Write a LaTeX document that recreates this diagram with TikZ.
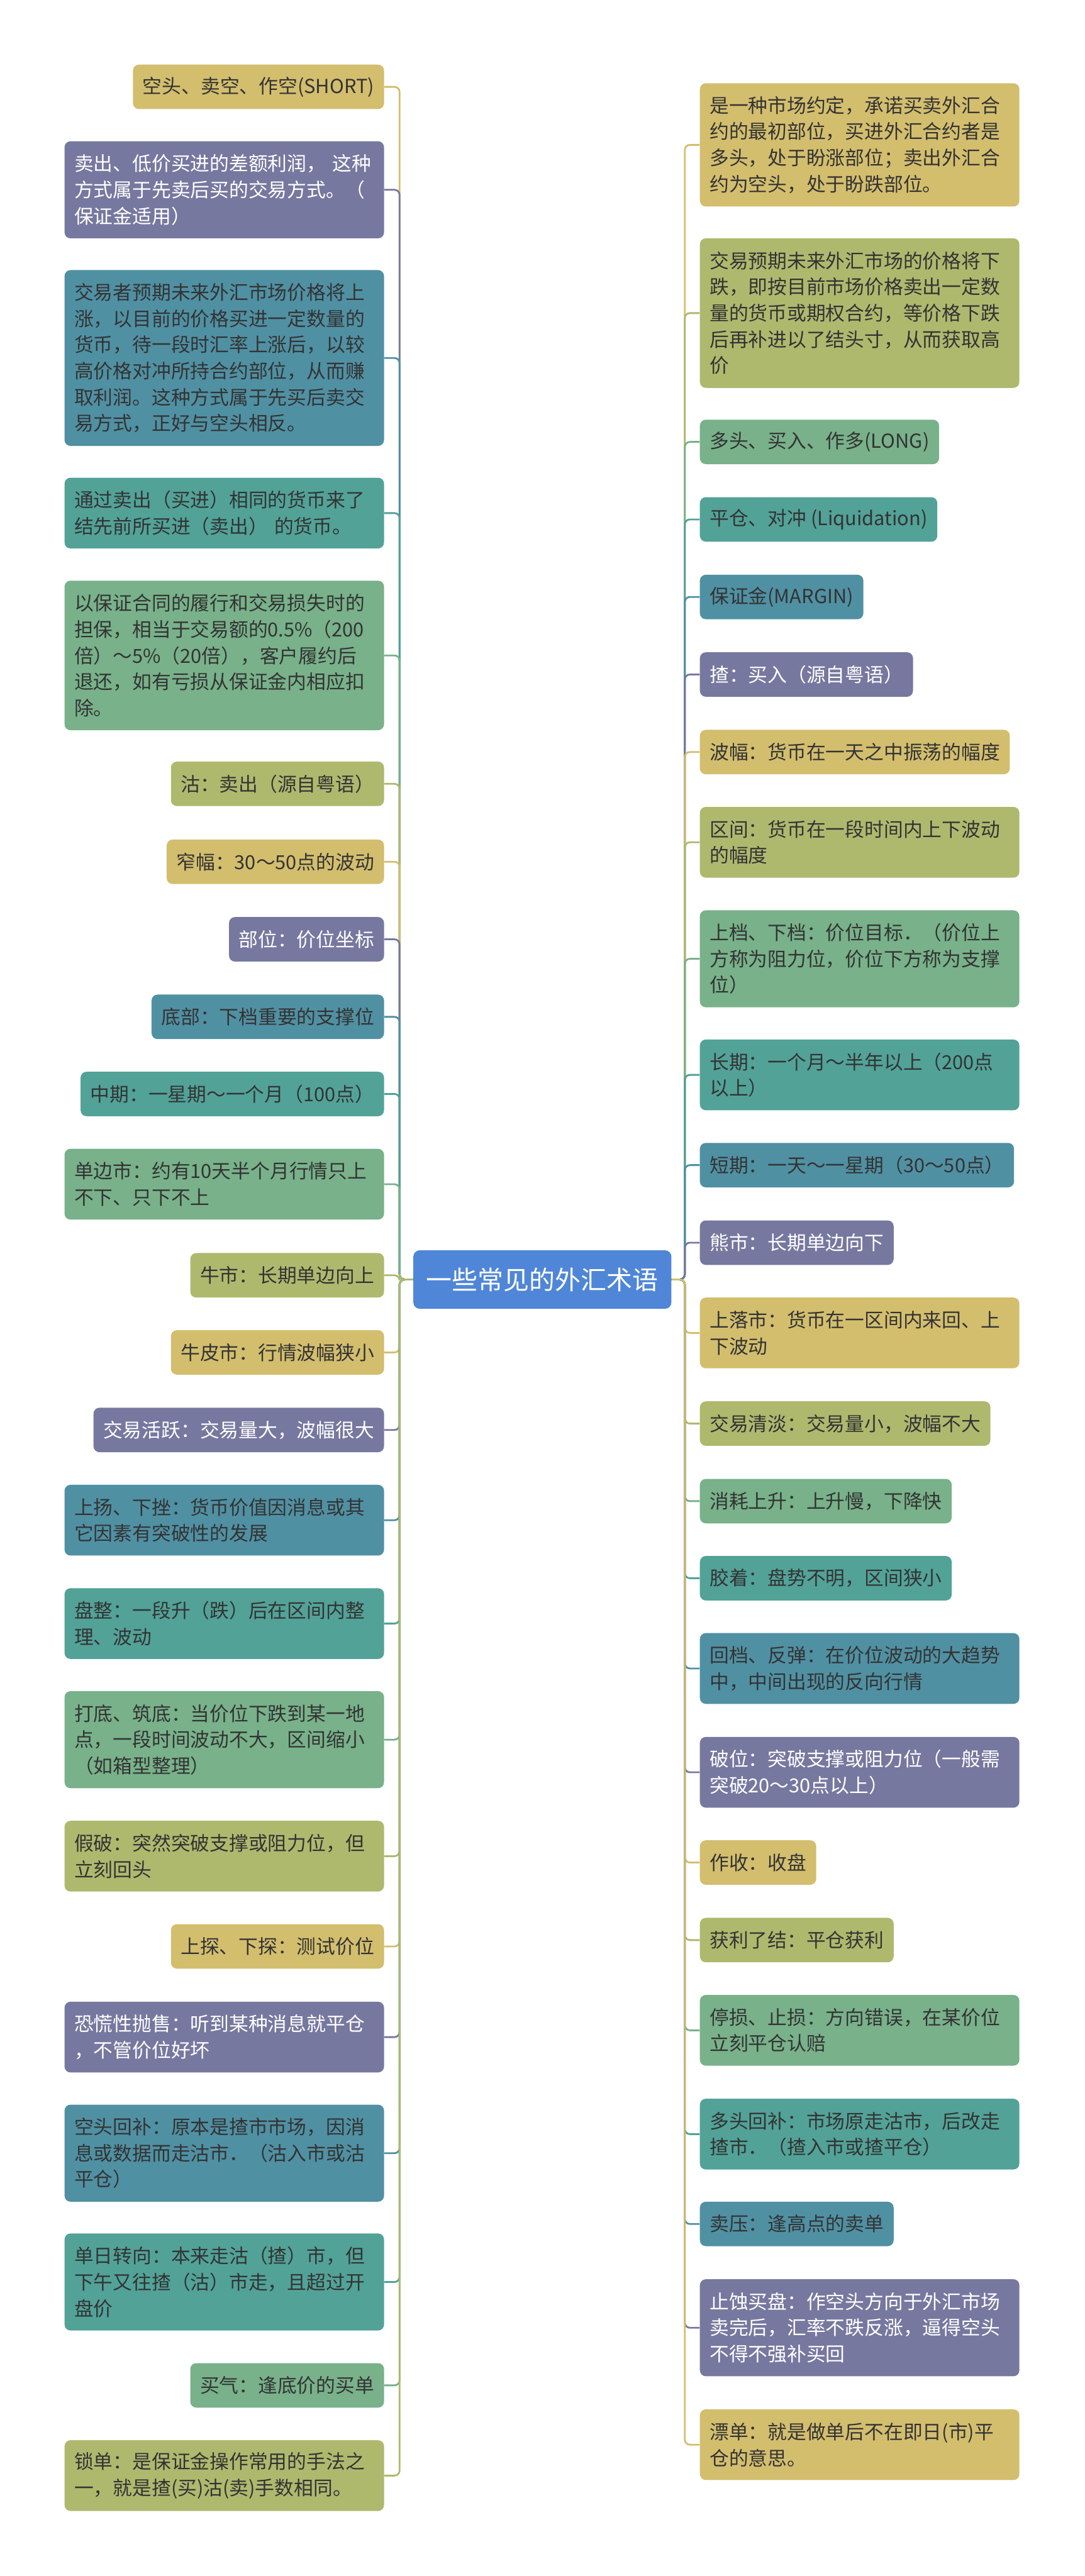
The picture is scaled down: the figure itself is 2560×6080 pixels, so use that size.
\documentclass[tikz,border=0pt]{standalone}
\usepackage{fontspec}
\setmainfont{Noto Sans CJK SC}
\usetikzlibrary{positioning}

\definecolor{mmGold}{HTML}{D3BE6E}
\definecolor{mmOlive}{HTML}{AEB96E}
\definecolor{mmGreen}{HTML}{78B18A}
\definecolor{mmTeal}{HTML}{52A298}
\definecolor{mmBlue}{HTML}{5090A3}
\definecolor{mmPurple}{HTML}{77789F}
\definecolor{mmRoot}{HTML}{4F86D8}
\definecolor{ink}{HTML}{333333}

\begin{document}
\begin{tikzpicture}[
  x=0.1mm, y=-0.1mm,
  root/.style={
    rectangle, rounded corners=1.5mm,
    fill=mmRoot, text=white,
    minimum width=60.9mm, minimum height=13.8mm,
    inner sep=0pt, font=\fontsize{17.3pt}{20pt}\selectfont
  },
  term/.style={
    rectangle, rounded corners=1.4mm,
    text=ink, align=left,
    inner xsep=2.3mm, inner ysep=0pt,
    font=\fontsize{13pt}{17.6pt}\selectfont
  },
  lterm/.style={term, anchor=east},
  rterm/.style={term, anchor=west},
  rows/.style={minimum height=4.3mm+6.2mm*#1},
  wide/.style={text width=70.8mm},
  pur/.style={fill=mmPurple, text=white},
  link/.style={draw=#1, line width=1.2pt, rounded corners=1.2mm}
]
\useasboundingbox (0,0) rectangle (2560,6080);

%% ── Centre ───────────────────────────────────────────────────────────
\node[root] (root) at (1280,3020) {一些常见的外汇术语};

%% ── Left branch ──────────────────────────────────────────────────────
\node[lterm, fill=mmGold, rows=1] (l1) at (907,205) {空头、卖空、作空(SHORT)};
\node[lterm, pur, rows=3, wide] (l2) at (907,448) {
  卖出、低价买进的差额利润， 这种\\
  方式属于先卖后买的交易方式。（\\
  保证金适用）
};
\node[lterm, fill=mmBlue, rows=6, wide] (l3) at (907,845) {
  交易者预期未来外汇市场价格将上\\
  涨，以目前的价格买进一定数量的\\
  货币，待一段时汇率上涨后，以较\\
  高价格对冲所持合约部位，从而赚\\
  取利润。这种方式属于先买后卖交\\
  易方式，正好与空头相反。
};
\node[lterm, fill=mmTeal, rows=2, wide] (l4) at (907,1211) {
  通过卖出（买进）相同的货币来了\\
  结先前所买进（卖出） 的货币。
};
\node[lterm, fill=mmGreen, rows=5, wide] (l5) at (907,1547) {
  以保证合同的履行和交易损失时的\\
  担保，相当于交易额的0.5\%（200\\
  倍）～5\%（20倍），客户履约后\\
  退还，如有亏损从保证金内相应扣\\
  除。
};
\node[lterm, fill=mmOlive, rows=1] (l6) at (907,1850) {沽：卖出（源自粤语）};
\node[lterm, fill=mmGold, rows=1] (l7) at (907,2034) {窄幅：30～50点的波动};
\node[lterm, pur, rows=1] (l8) at (907,2217) {部位：价位坐标};
\node[lterm, fill=mmBlue, rows=1] (l9) at (907,2400) {底部：下档重要的支撑位};
\node[lterm, fill=mmTeal, rows=1] (l10) at (907,2582) {中期：一星期～一个月（100点）};
\node[lterm, fill=mmGreen, rows=2, wide] (l11) at (907,2795) {
  单边市：约有10天半个月行情只上\\
  不下、只下不上
};
\node[lterm, fill=mmOlive, rows=1] (l12) at (907,3010) {牛市：长期单边向上};
\node[lterm, fill=mmGold, rows=1] (l13) at (907,3192) {牛皮市：行情波幅狭小};
\node[lterm, pur, rows=1] (l14) at (907,3375) {交易活跃：交易量大，波幅很大};
\node[lterm, fill=mmBlue, rows=2, wide] (l15) at (907,3588) {
  上扬、下挫：货币价值因消息或其\\
  它因素有突破性的发展
};
\node[lterm, fill=mmTeal, rows=2, wide] (l16) at (907,3832) {
  盘整：一段升（跌）后在区间内整\\
  理、波动
};
\node[lterm, fill=mmGreen, rows=3, wide] (l17) at (907,4106) {
  打底、筑底：当价位下跌到某一地\\
  点，一段时间波动不大，区间缩小\\
  （如箱型整理）
};
\node[lterm, fill=mmOlive, rows=2, wide] (l18) at (907,4381) {
  假破：突然突破支撑或阻力位，但\\
  立刻回头
};
\node[lterm, fill=mmGold, rows=1] (l19) at (907,4594) {上探、下探：测试价位};
\node[lterm, pur, rows=2, wide] (l20) at (907,4808) {
  恐慌性抛售：听到某种消息就平仓\\
  ，不管价位好坏
};
\node[lterm, fill=mmBlue, rows=3, wide] (l21) at (907,5082) {
  空头回补：原本是揸市市场，因消\\
  息或数据而走沽市．（沽入市或沽\\
  平仓）
};
\node[lterm, fill=mmTeal, rows=3, wide] (l22) at (907,5386) {
  单日转向：本来走沽（揸）市，但\\
  下午又往揸（沽）市走，且超过开\\
  盘价
};
\node[lterm, fill=mmGreen, rows=1] (l23) at (907,5630) {买气：逢底价的买单};
\node[lterm, fill=mmOlive, rows=2, wide] (l24) at (907,5843) {
  锁单：是保证金操作常用的手法之\\
  一，就是揸(买)沽(卖)手数相同。
};

\draw[link=mmGold]   (l1.east)  -- ++(36,0) |- (root.west);
\draw[link=mmPurple] (l2.east)  -- ++(36,0) |- (root.west);
\draw[link=mmBlue]   (l3.east)  -- ++(36,0) |- (root.west);
\draw[link=mmTeal]   (l4.east)  -- ++(36,0) |- (root.west);
\draw[link=mmGreen]  (l5.east)  -- ++(36,0) |- (root.west);
\draw[link=mmOlive]  (l6.east)  -- ++(36,0) |- (root.west);
\draw[link=mmGold]   (l7.east)  -- ++(36,0) |- (root.west);
\draw[link=mmPurple] (l8.east)  -- ++(36,0) |- (root.west);
\draw[link=mmBlue]   (l9.east)  -- ++(36,0) |- (root.west);
\draw[link=mmTeal]   (l10.east) -- ++(36,0) |- (root.west);
\draw[link=mmGreen]  (l11.east) -- ++(36,0) |- (root.west);
\draw[link=mmOlive]  (l12.east) -- ++(36,0) |- (root.west);
\draw[link=mmGold]   (l13.east) -- ++(36,0) |- (root.west);
\draw[link=mmPurple] (l14.east) -- ++(36,0) |- (root.west);
\draw[link=mmBlue]   (l15.east) -- ++(36,0) |- (root.west);
\draw[link=mmTeal]   (l16.east) -- ++(36,0) |- (root.west);
\draw[link=mmGreen]  (l17.east) -- ++(36,0) |- (root.west);
\draw[link=mmOlive]  (l18.east) -- ++(36,0) |- (root.west);
\draw[link=mmGold]   (l19.east) -- ++(36,0) |- (root.west);
\draw[link=mmPurple] (l20.east) -- ++(36,0) |- (root.west);
\draw[link=mmBlue]   (l21.east) -- ++(36,0) |- (root.west);
\draw[link=mmTeal]   (l22.east) -- ++(36,0) |- (root.west);
\draw[link=mmGreen]  (l23.east) -- ++(36,0) |- (root.west);
\draw[link=mmOlive]  (l24.east) -- ++(36,0) |- (root.west);

%% ── Right branch ─────────────────────────────────────────────────────
\node[rterm, fill=mmGold, rows=4, wide] (r1) at (1651,342) {
  是一种市场约定，承诺买卖外汇合\\
  约的最初部位，买进外汇合约者是\\
  多头，处于盼涨部位；卖出外汇合\\
  约为空头，处于盼跌部位。
};
\node[rterm, fill=mmOlive, rows=5, wide] (r2) at (1651,739) {
  交易预期未来外汇市场的价格将下\\
  跌，即按目前市场价格卖出一定数\\
  量的货币或期权合约，等价格下跌\\
  后再补进以了结头寸，从而获取高\\
  价
};
\node[rterm, fill=mmGreen, rows=1] (r3) at (1651,1043) {多头、买入、作多(LONG)};
\node[rterm, fill=mmTeal, rows=1] (r4) at (1651,1226) {平仓、对冲 (Liquidation)};
\node[rterm, fill=mmBlue, rows=1] (r5) at (1651,1409) {保证金(MARGIN)};
\node[rterm, pur, rows=1] (r6) at (1651,1592) {揸：买入（源自粤语）};
\node[rterm, fill=mmGold, rows=1] (r7) at (1651,1775) {波幅：货币在一天之中振荡的幅度};
\node[rterm, fill=mmOlive, rows=2, wide] (r8) at (1651,1988) {
  区间：货币在一段时间内上下波动\\
  的幅度
};
\node[rterm, fill=mmGreen, rows=3, wide] (r9) at (1651,2263) {
  上档、下档：价位目标．（价位上\\
  方称为阻力位，价位下方称为支撑\\
  位）
};
\node[rterm, fill=mmTeal, rows=2, wide] (r10) at (1651,2537) {
  长期：一个月～半年以上（200点\\
  以上）
};
\node[rterm, fill=mmBlue, rows=1] (r11) at (1651,2750) {短期：一天～一星期（30～50点）};
\node[rterm, pur, rows=1] (r12) at (1651,2933) {熊市：长期单边向下};
\node[rterm, fill=mmGold, rows=2, wide] (r13) at (1651,3146) {
  上落市：货币在一区间内来回、上\\
  下波动
};
\node[rterm, fill=mmOlive, rows=1] (r14) at (1651,3360) {交易清淡：交易量小，波幅不大};
\node[rterm, fill=mmGreen, rows=1] (r15) at (1651,3543) {消耗上升：上升慢，下降快};
\node[rterm, fill=mmTeal, rows=1] (r16) at (1651,3725) {胶着：盘势不明，区间狭小};
\node[rterm, fill=mmBlue, rows=2, wide] (r17) at (1651,3938) {
  回档、反弹：在价位波动的大趋势\\
  中，中间出现的反向行情
};
\node[rterm, pur, rows=2, wide] (r18) at (1651,4183) {
  破位：突破支撑或阻力位（一般需\\
  突破20～30点以上）
};
\node[rterm, fill=mmGold, rows=1] (r19) at (1651,4396) {作收：收盘};
\node[rterm, fill=mmOlive, rows=1] (r20) at (1651,4579) {获利了结：平仓获利};
\node[rterm, fill=mmGreen, rows=2, wide] (r21) at (1651,4792) {
  停损、止损：方向错误，在某价位\\
  立刻平仓认赔
};
\node[rterm, fill=mmTeal, rows=2, wide] (r22) at (1651,5037) {
  多头回补：市场原走沽市，后改走\\
  揸市．（揸入市或揸平仓）
};
\node[rterm, fill=mmBlue, rows=1] (r23) at (1651,5249) {卖压：逢高点的卖单};
\node[rterm, pur, rows=3, wide] (r24) at (1651,5494) {
  止蚀买盘：作空头方向于外汇市场\\
  卖完后，汇率不跌反涨，逼得空头\\
  不得不强补买回
};
\node[rterm, fill=mmGold, rows=2, wide] (r25) at (1651,5770) {
  漂单：就是做单后不在即日(市)平\\
  仓的意思。
};

\draw[link=mmGold]   (r1.west)  -- ++(-35,0) |- (root.east);
\draw[link=mmOlive]  (r2.west)  -- ++(-35,0) |- (root.east);
\draw[link=mmGreen]  (r3.west)  -- ++(-35,0) |- (root.east);
\draw[link=mmTeal]   (r4.west)  -- ++(-35,0) |- (root.east);
\draw[link=mmBlue]   (r5.west)  -- ++(-35,0) |- (root.east);
\draw[link=mmPurple] (r6.west)  -- ++(-35,0) |- (root.east);
\draw[link=mmGold]   (r7.west)  -- ++(-35,0) |- (root.east);
\draw[link=mmOlive]  (r8.west)  -- ++(-35,0) |- (root.east);
\draw[link=mmGreen]  (r9.west)  -- ++(-35,0) |- (root.east);
\draw[link=mmTeal]   (r10.west) -- ++(-35,0) |- (root.east);
\draw[link=mmBlue]   (r11.west) -- ++(-35,0) |- (root.east);
\draw[link=mmPurple] (r12.west) -- ++(-35,0) |- (root.east);
\draw[link=mmGold]   (r13.west) -- ++(-35,0) |- (root.east);
\draw[link=mmOlive]  (r14.west) -- ++(-35,0) |- (root.east);
\draw[link=mmGreen]  (r15.west) -- ++(-35,0) |- (root.east);
\draw[link=mmTeal]   (r16.west) -- ++(-35,0) |- (root.east);
\draw[link=mmBlue]   (r17.west) -- ++(-35,0) |- (root.east);
\draw[link=mmPurple] (r18.west) -- ++(-35,0) |- (root.east);
\draw[link=mmGold]   (r19.west) -- ++(-35,0) |- (root.east);
\draw[link=mmOlive]  (r20.west) -- ++(-35,0) |- (root.east);
\draw[link=mmGreen]  (r21.west) -- ++(-35,0) |- (root.east);
\draw[link=mmTeal]   (r22.west) -- ++(-35,0) |- (root.east);
\draw[link=mmBlue]   (r23.west) -- ++(-35,0) |- (root.east);
\draw[link=mmPurple] (r24.west) -- ++(-35,0) |- (root.east);
\draw[link=mmGold]   (r25.west) -- ++(-35,0) |- (root.east);

\end{tikzpicture}
\end{document}
